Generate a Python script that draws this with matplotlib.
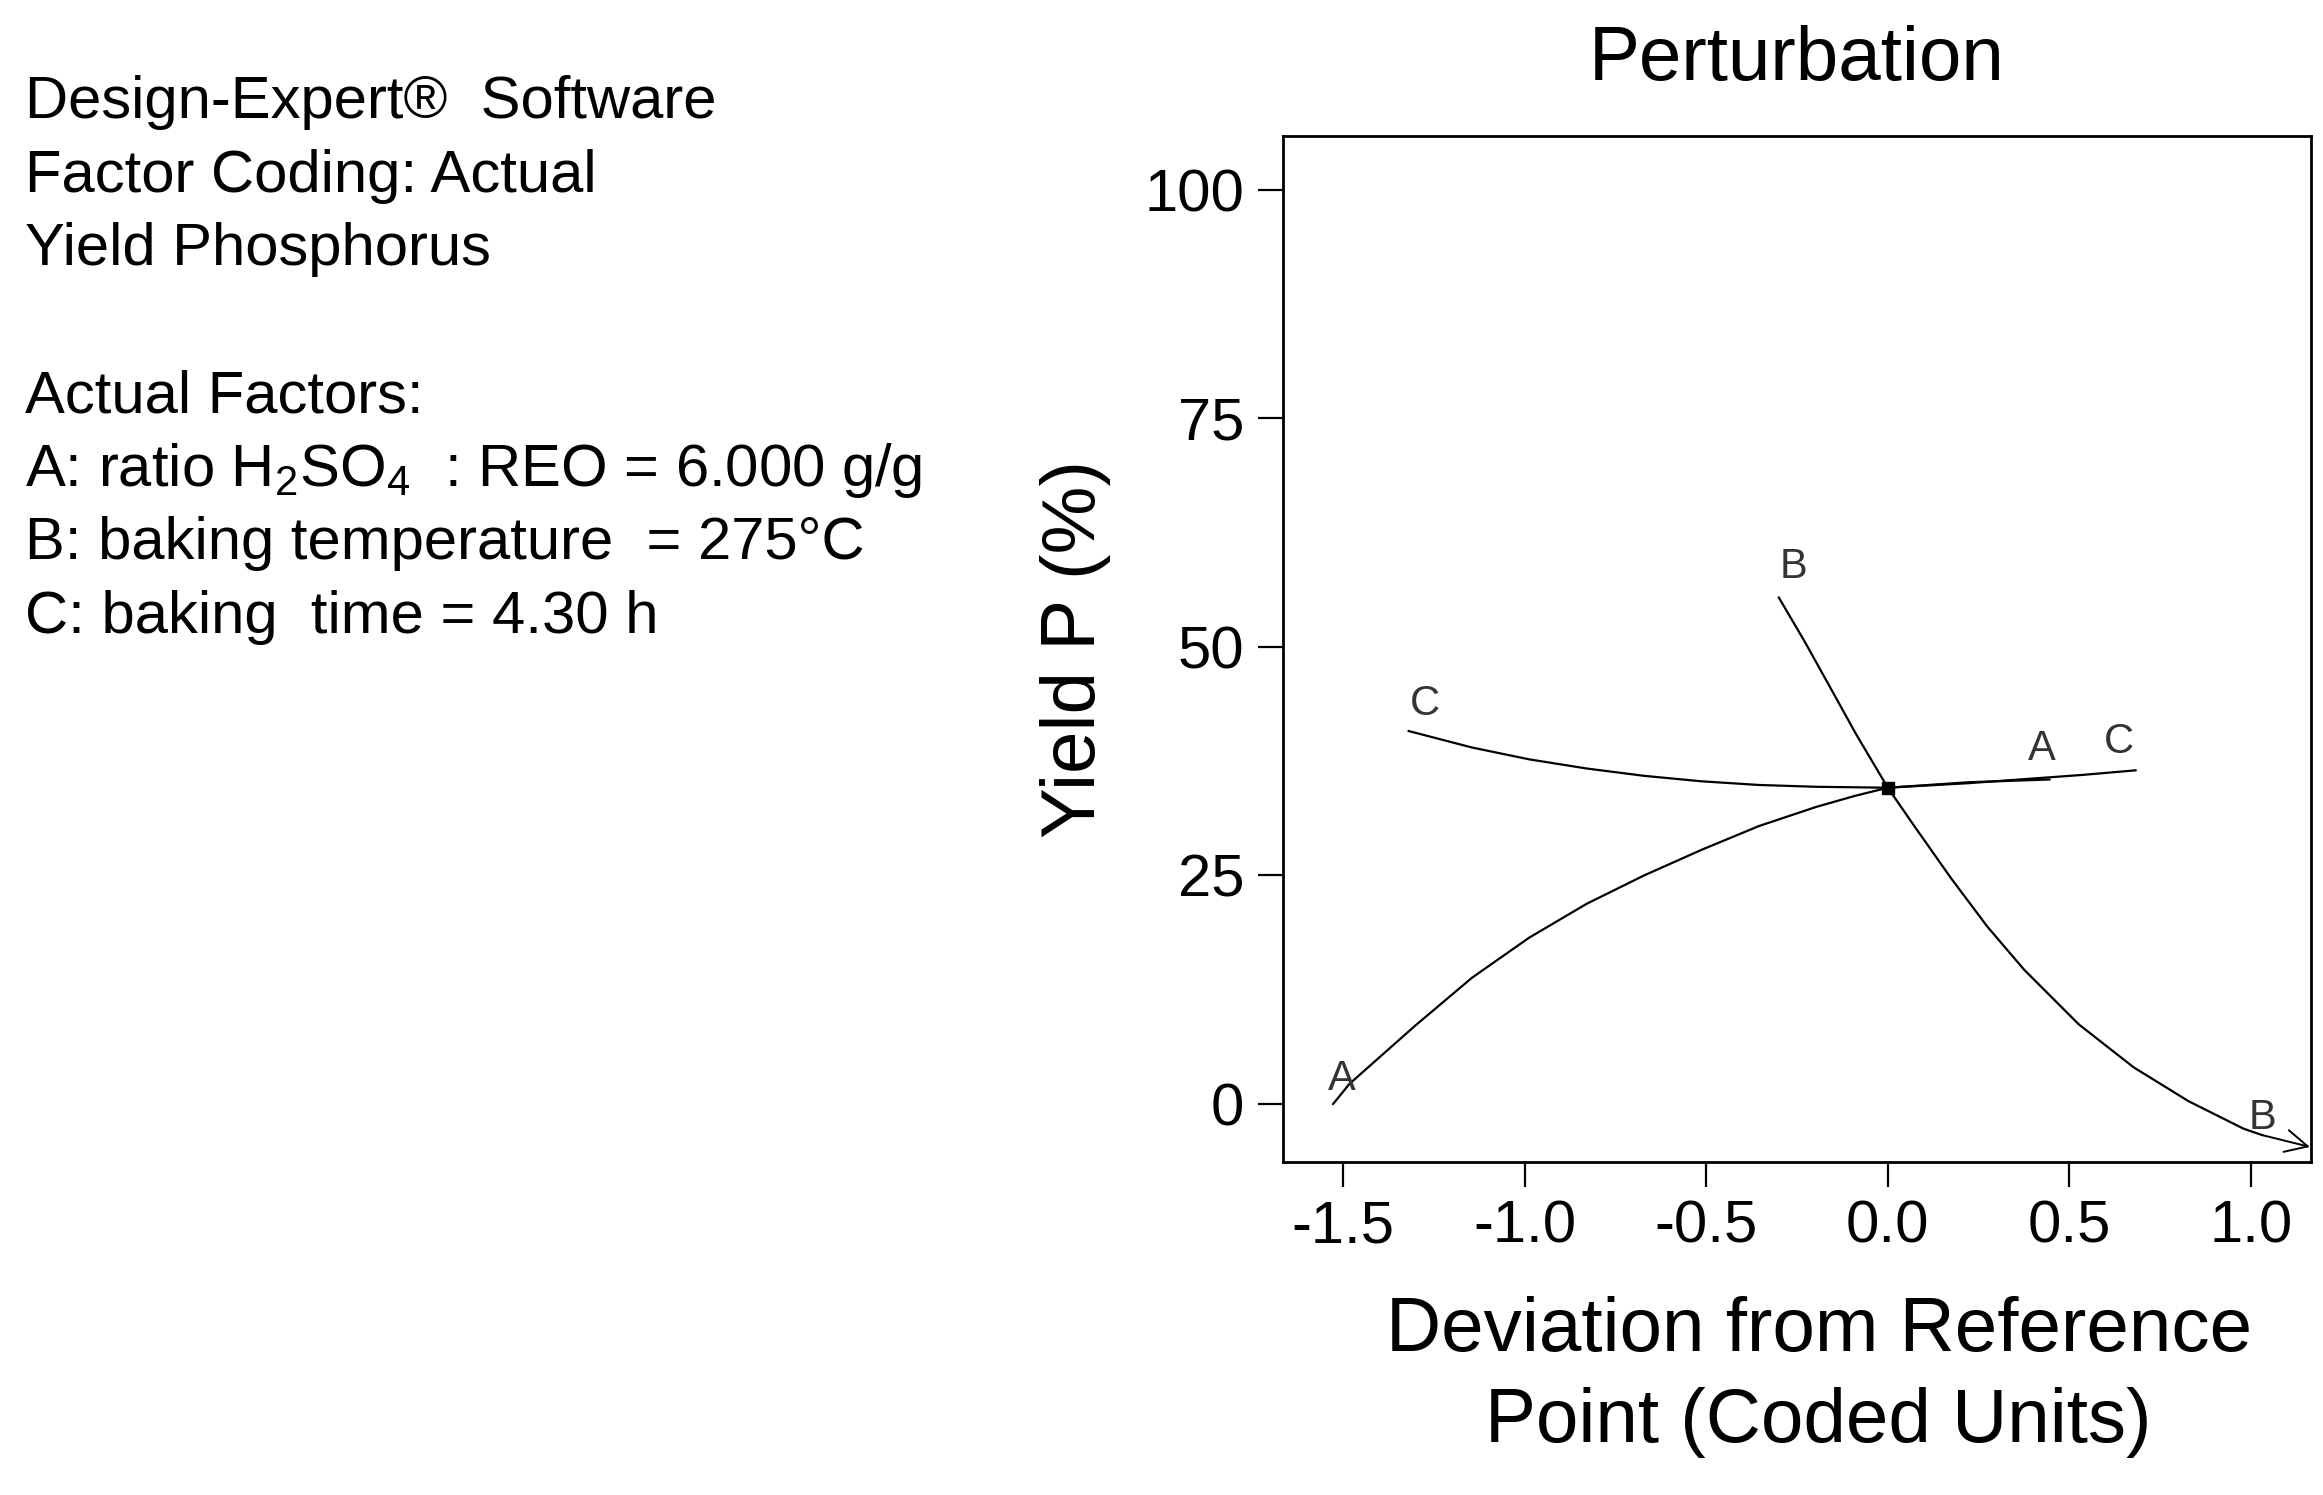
import matplotlib
matplotlib.use("Agg")
import matplotlib.pyplot as plt

plt.rcParams['font.family'] = ['Liberation Sans', 'DejaVu Sans']
plt.rcParams['mathtext.fontset'] = 'custom'
plt.rcParams['mathtext.rm'] = 'Liberation Sans'
plt.rcParams['mathtext.it'] = 'Liberation Sans'

# perturbation traces (coded units vs yield %)
a_x = [-1.527, -1.482, -1.303, -1.145, -0.987, -0.829, -0.671, -0.513, -0.355, -0.197, -0.091, 0.0, 0.224, 0.445]
a_y = [0.0, 2.2, 8.5, 13.8, 18.2, 21.9, 25.0, 27.8, 30.4, 32.5, 33.7, 34.6, 35.2, 35.5]

b_x = [-0.3, -0.229, -0.159, -0.088, 0.0, 0.073, 0.174, 0.274, 0.375, 0.526, 0.677, 0.828, 0.979, 1.03]
b_y = [55.4, 50.6, 45.6, 40.5, 34.6, 30.4, 24.7, 19.4, 14.7, 8.7, 4.0, 0.3, -2.7, -3.4]

c_x = [-1.319, -1.145, -0.987, -0.829, -0.671, -0.513, -0.355, -0.197, 0.0, 0.224, 0.536, 0.682]
c_y = [40.8, 39.0, 37.7, 36.7, 35.9, 35.3, 34.9, 34.7, 34.6, 35.1, 36.0, 36.5]

# where the trace letters sit
label_txt = ['A', 'A', 'B', 'B', 'C', 'C']
label_x = [-1.503, 0.425, -0.261, 1.032, -1.273, 0.636]
label_y = [2.7, 38.8, 58.7, -1.5, 43.8, 39.6]

ref_x, ref_y = 0.0, 34.6

info_lines = [
    "Design-Expert\u00ae  Software",
    "Factor Coding: Actual",
    "Yield Phosphorus",
    "",
    "Actual Factors:",
    r"A: ratio H$_2$SO$_4$  : REO = 6.000 g/g",
    "B: baking temperature  = 275\u00b0C",
    "C: baking  time = 4.30 h",
]

W, H = 2323, 1495
fig = plt.figure(figsize=(W / 100, H / 100), dpi=100)
ax = fig.add_axes([1283 / W, 1 - 1162 / H, (2311 - 1283) / W, (1162 - 136) / H])

lw = 1.6
ax.plot(a_x, a_y, color='black', lw=lw)
ax.plot(b_x, b_y, color='black', lw=lw)
ax.plot(c_x, c_y, color='black', lw=lw)
ax.plot([ref_x], [ref_y], marker='s', color='black', markersize=9)

# trace B runs off the right edge
ax.annotate('', xy=(1.162, -4.7), xytext=(1.03, -3.4),
            arrowprops=dict(arrowstyle='->', color='black', lw=1.4,
                            mutation_scale=40, shrinkA=0, shrinkB=0))

for t, lx, ly in zip(label_txt, label_x, label_y):
    ax.text(lx, ly, t, fontsize=30, color='#333333', ha='center', va='center')

ax.set_xlim(-1.665, 1.165)
ax.set_ylim(-6.35, 105.9)
ax.set_xticks([-1.5, -1.0, -0.5, 0.0, 0.5, 1.0])
ax.set_xticklabels(['-1.5', '-1.0', '-0.5', '0.0', '0.5', '1.0'])
ax.set_yticks([0, 25, 50, 75, 100])
ax.tick_params(direction='out', length=18, width=1.6, labelsize=43)
ax.tick_params(axis='y', pad=10)
ax.tick_params(axis='x', pad=9)
for s in ax.spines.values():
    s.set_linewidth(2.0)

ax.set_title("Perturbation", fontsize=55, pad=40)
ax.set_xlabel("Deviation from Reference\nPoint (Coded Units)", fontsize=55,
              linespacing=1.36, labelpad=30)
ax.xaxis.label.set_x(0.521)
ax.set_ylabel("Yield P (%)", fontsize=55, labelpad=24)

y0 = 118
for i, line in enumerate(info_lines):
    if line:
        fig.text(25 / W, 1 - (y0 + i * 73.5) / H, line, fontsize=43,
                 ha='left', va='baseline')

fig.savefig("out.png", dpi=100)
